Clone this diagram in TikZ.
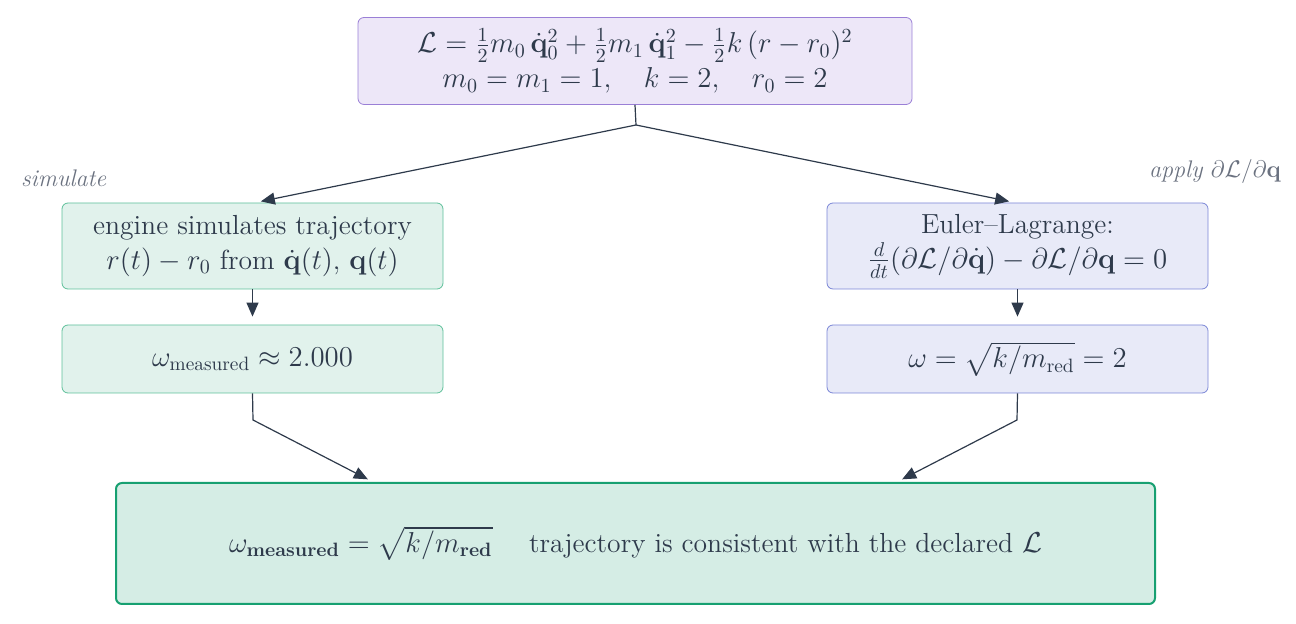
\documentclass[tikz,border=0pt]{standalone}
\usepackage{amsmath, amssymb}
\usetikzlibrary{arrows.meta}
\definecolor{ink}{HTML}{2E3A4B}
\definecolor{lblgray}{HTML}{6B7280}
\definecolor{topfill}{HTML}{EDE7F8}
\definecolor{topline}{HTML}{9A7FD6}
\definecolor{simfill}{HTML}{E1F2EC}
\definecolor{simline}{HTML}{5EC09A}
\definecolor{elfill}{HTML}{E8EAF8}
\definecolor{elline}{HTML}{7A86D6}
\definecolor{resfill}{HTML}{D5EDE5}
\definecolor{resline}{HTML}{17A071}
\begin{document}
\begin{tikzpicture}[x=0.5pt,y=-0.5pt,
  box/.style={draw, rounded corners=3pt, text=ink, align=center, inner sep=0pt,
    font=\fontsize{13.8}{17.5}\selectfont},
  flow/.style={draw=ink, line width=0.6pt, -{Triangle[length=7pt,width=6pt]}, shorten >=4pt}]
  \useasboundingbox (0,0) rectangle (1296,624);
  % nodes
  \node (lag) [box, fill=topfill, draw=topline, minimum width=277pt, minimum height=43.5pt] at (635,61)
    {$\mathcal{L}=\frac12 m_0\,\dot{\mathbf q}_0^2+\frac12 m_1\,\dot{\mathbf q}_1^2-\frac12 k\,(r-r_0)^2$\\
     $m_0=m_1=1,\quad k=2,\quad r_0=2$};
  \node (sim) [box, fill=simfill, draw=simline, minimum width=190.5pt, minimum height=43pt] at (252.5,246)
    {engine simulates trajectory\\ $r(t)-r_0$ from $\dot{\mathbf q}(t)$, $\mathbf q(t)$};
  \node (meas) [box, fill=simfill, draw=simline, minimum width=190.5pt, minimum height=34pt] at (252.5,359)
    {$\omega_{\text{measured}}\approx 2.000$};
  \node (el) [box, fill=elfill, draw=elline, minimum width=190.5pt, minimum height=43pt] at (1017.5,246)
    {Euler--Lagrange:\\ $\frac{d}{dt}(\partial\mathcal{L}/\partial\dot{\mathbf q})-\partial\mathcal{L}/\partial\mathbf q=0$};
  \node (omega) [box, fill=elfill, draw=elline, minimum width=190.5pt, minimum height=34pt] at (1017.5,359)
    {$\omega=\sqrt{k/m_{\text{red}}}=2$};
  \node (res) [box, fill=resfill, draw=resline, line width=1pt, minimum width=519.5pt, minimum height=60.5pt] at (635.5,543.5)
    {$\omega_{\textbf{measured}}=\sqrt{k/m_{\textbf{red}}}$\quad\ trajectory is consistent with the declared $\mathcal{L}$};
  % labels
  \node (simlbl) [anchor=west, text=lblgray, font=\large\itshape] at (14,178) {simulate};
  \node (ellbl) [anchor=east, text=lblgray, font=\large] at (1288,172) {\textit{apply} $\partial\mathcal{L}/\partial\mathbf q$};
  % connectors
  \coordinate (split) at (636,125);
  \coordinate (simtop) at (253,203);
  \coordinate (eltop) at (1017,203);
  \coordinate (joinl) at (253,420);
  \coordinate (joinr) at (1017,420);
  \coordinate (resl) at (375,483);
  \coordinate (resr) at (895,483);
  \draw [draw=ink, line width=0.6pt] (lag.south) -- (split);
  \draw [flow] (split) -- (simtop);
  \draw [flow] (split) -- (eltop);
  \draw [flow] (sim.south) -- (meas.north);
  \draw [flow] (el.south) -- (omega.north);
  \draw [flow] (meas.south) -- (joinl) -- (resl);
  \draw [flow] (omega.south) -- (joinr) -- (resr);
\end{tikzpicture}
\end{document}
